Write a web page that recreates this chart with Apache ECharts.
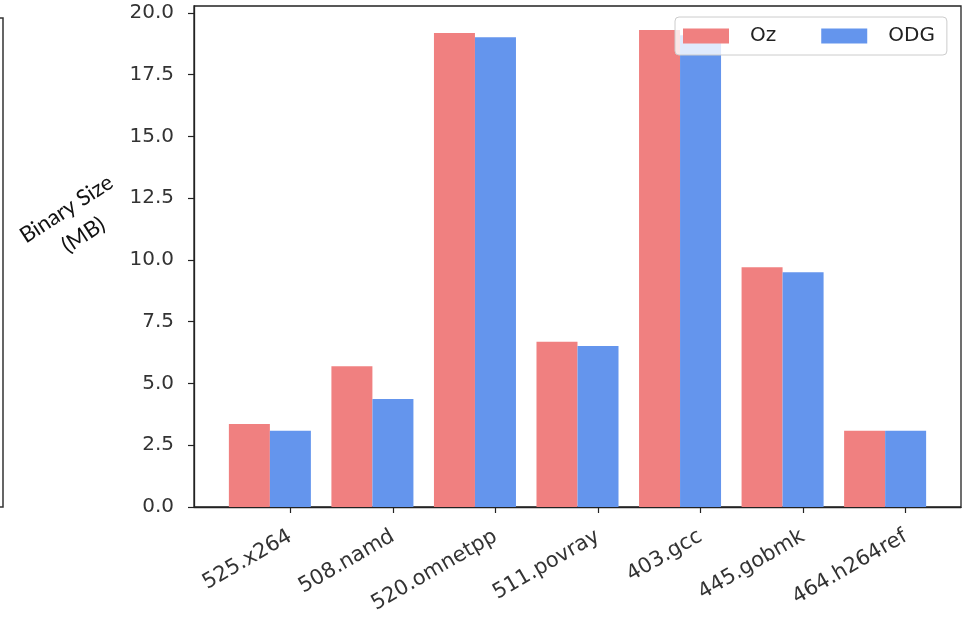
<!DOCTYPE html>
<html>
<head>
<meta charset="utf-8">
<title>Binary Size</title>
<script src="https://cdn.jsdelivr.net/npm/echarts@6/dist/echarts.min.js"></script>
<style>
  html, body { margin: 0; padding: 0; background: #ffffff; }
  #chart { width: 965px; height: 620px; }
</style>
</head>
<body>
<div id="chart"></div>
<script>
// Benchmarks and their binary sizes (MB) under the two build configurations
const categories = ['525.x264', '508.namd', '520.omnetpp', '511.povray', '403.gcc', '445.gobmk', '464.h264ref'];
const ozSize  = [3.36, 5.70, 19.19, 6.69, 19.31, 9.70, 3.09];
const odgSize = [3.09, 4.37, 19.02, 6.52, 19.10, 9.50, 3.09];
const yTicks  = [0, 2.5, 5, 7.5, 10, 12.5, 15, 17.5, 20];
const seriesNames = ['Oz', 'ODG'];

// Bars sit on a numeric x scale: ODG centred on each benchmark's tick, Oz just left of it
const BAR_UNIT = 0.4;
const tickPositions = categories.map((_, i) => i);
const ozData  = ozSize.map((v, i) => [i - BAR_UNIT, v]);
const odgData = odgSize.map((v, i) => [i, v]);

const chart = echarts.init(document.getElementById('chart'), null, { renderer: 'canvas' });

const AXIS_COLOR = '#222';
const FONT = 'DejaVu Sans';

chart.setOption({
  animation: false,
  backgroundColor: '#ffffff',
  textStyle: { fontFamily: FONT },
  grid: {
    left: 194, right: 4, top: 6, bottom: 113,
    show: true, borderColor: AXIS_COLOR, borderWidth: 1.3, backgroundColor: 'transparent'
  },
  legend: {
    data: seriesNames,
    left: 675, top: 17,
    icon: 'rect',
    itemWidth: 46, itemHeight: 15, itemGap: 45,
    padding: [9, 12, 9, 8],
    backgroundColor: 'rgba(255,255,255,0.8)',
    borderColor: '#cccccc', borderWidth: 1, borderRadius: 4,
    textStyle: { fontFamily: FONT, fontSize: 20, color: '#222', padding: [0, 0, 0, 16] }
  },
  xAxis: {
    type: 'value',
    min: -0.94, max: 6.54,
    splitLine: { show: false },
    axisLine: { show: true, onZero: false, lineStyle: { color: AXIS_COLOR, width: 1.3 } },
    axisTick: { show: true, customValues: tickPositions, length: 6, lineStyle: { color: AXIS_COLOR, width: 1.2 } },
    axisLabel: {
      customValues: tickPositions,
      formatter: v => categories[Math.round(v)] || '',
      rotate: 30, margin: 28,
      fontFamily: FONT, fontSize: 21, color: '#333'
    }
  },
  yAxis: {
    type: 'value',
    min: 0, max: 20.28,
    splitLine: { show: false },
    axisLine: { show: true, onZero: false, lineStyle: { color: AXIS_COLOR, width: 1.3 } },
    axisTick: { show: true, customValues: yTicks, length: 6, lineStyle: { color: AXIS_COLOR, width: 1.2 } },
    axisLabel: {
      customValues: yTicks,
      formatter: v => v.toFixed(1),
      margin: 20,
      fontFamily: FONT, fontSize: 20, color: '#333'
    }
  },
  series: [
    {
      name: seriesNames[0], type: 'bar', data: ozData,
      barWidth: 41, barGap: '-100%',
      itemStyle: { color: '#F08080' }
    },
    {
      name: seriesNames[1], type: 'bar', data: odgData,
      barWidth: 41, barGap: '-100%',
      itemStyle: { color: '#6495ED' }
    }
  ],
  graphic: [
    {
      type: 'text',
      x: 75, y: 222,
      rotation: 33 * Math.PI / 180,
      style: {
        text: 'Binary Size\n(MB)',
        font: '22px Lato',
        lineHeight: 31,
        fill: '#111',
        align: 'center',
        verticalAlign: 'middle'
      }
    },
    {
      type: 'polyline',
      shape: { points: [[0, 18], [3, 18], [3, 507], [0, 507]] },
      style: { stroke: '#333', lineWidth: 1.5, fill: null }
    }
  ]
});
</script>
</body>
</html>
